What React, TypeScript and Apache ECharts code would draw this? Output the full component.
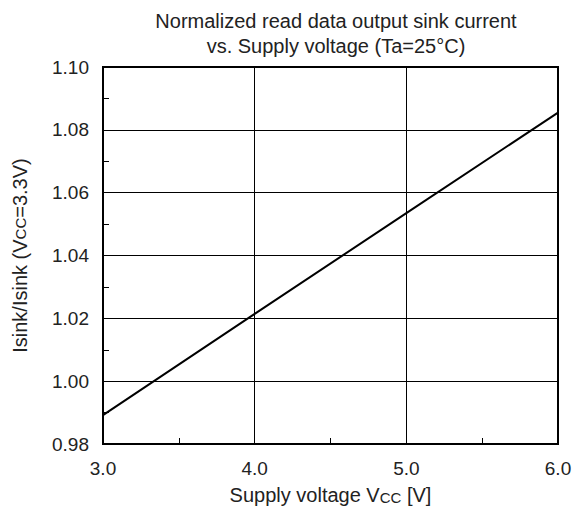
import React, { useEffect, useRef } from "react";
import * as echarts from "echarts";

const xValues = [3.0, 4.0, 5.0, 6.0];
const yValues = [0.9892, 1.0214, 1.0535, 1.0855];
const titleLines = ["Normalized read data output sink current", "vs. Supply voltage (Ta=25°C)"];

export default function App() {
  const ref = useRef<HTMLDivElement>(null);
  useEffect(() => {
    const chart = echarts.init(ref.current!, null, { renderer: "svg" });
    const font = "'Liberation Sans', Arial, sans-serif";
    const tickAxisX = {
      type: "value",
      position: "bottom",
      min: 3,
      max: 6,
      interval: 0.5,
      axisLine: { show: false },
      axisTick: { show: true, inside: true, length: 6, lineStyle: { color: "#000", width: 1 } },
      axisLabel: { show: false },
      splitLine: { show: false },
    };
    const tickAxisY = {
      type: "value",
      position: "left",
      min: 0.98,
      max: 1.1,
      interval: 0.01,
      axisLine: { show: false },
      axisTick: { show: true, inside: true, length: 6, lineStyle: { color: "#000", width: 1 } },
      axisLabel: { show: false },
      splitLine: { show: false },
    };
    chart.setOption({
      animation: false,
      title: {
        text: titleLines.join("\n"),
        left: 331,
        top: 3,
        textAlign: "center",
        textStyle: { fontFamily: font, fontSize: 20, fontWeight: "normal", color: "#222", lineHeight: 25 },
      },
      grid: { left: 103, right: 19, top: 67, bottom: 71, show: true, borderColor: "#000", borderWidth: 2, containLabel: false },
      xAxis: [
        {
          type: "value",
          position: "bottom",
          min: 3,
          max: 6,
          interval: 1,
          axisLine: { show: true, lineStyle: { color: "#000", width: 2 } },
          axisTick: { show: false },
          splitLine: { show: true, lineStyle: { color: "#000", width: 1 } },
          axisLabel: { fontFamily: font, fontSize: 19, color: "#222", margin: 15, formatter: (v: number) => v.toFixed(1) },
          name: "Supply voltage V{s|CC} [V]",
          nameLocation: "middle",
          nameGap: 41,
          nameTextStyle: { fontFamily: font, fontSize: 20, color: "#222", rich: { s: { fontFamily: font, fontSize: 15, color: "#222", verticalAlign: "bottom" } } },
        },
        tickAxisX,
      ],
      yAxis: [
        {
          type: "value",
          position: "left",
          min: 0.98,
          max: 1.1,
          interval: 0.02,
          axisLine: { show: true, lineStyle: { color: "#000", width: 2 } },
          axisTick: { show: false },
          splitLine: { show: true, lineStyle: { color: "#000", width: 1 } },
          axisLabel: { fontFamily: font, fontSize: 19, color: "#222", margin: 14, formatter: (v: number) => v.toFixed(2) },
          name: "Isink/Isink (V{s|CC}=3.3V)",
          nameLocation: "middle",
          nameGap: 73,
          nameTextStyle: { fontFamily: font, fontSize: 20, color: "#222", rich: { s: { fontFamily: font, fontSize: 15, color: "#222" } } },
        },
        tickAxisY,
      ],
      series: [
        {
          type: "line",
          xAxisIndex: 0,
          yAxisIndex: 0,
          data: xValues.map((x, i) => [x, yValues[i]]),
          showSymbol: false,
          lineStyle: { color: "#000", width: 2 },
        },
      ],
    });
    return () => chart.dispose();
  }, []);
  return <div ref={ref} style={{ width: 577, height: 515, position: "absolute", left: 0, top: 0 }} />;
}
